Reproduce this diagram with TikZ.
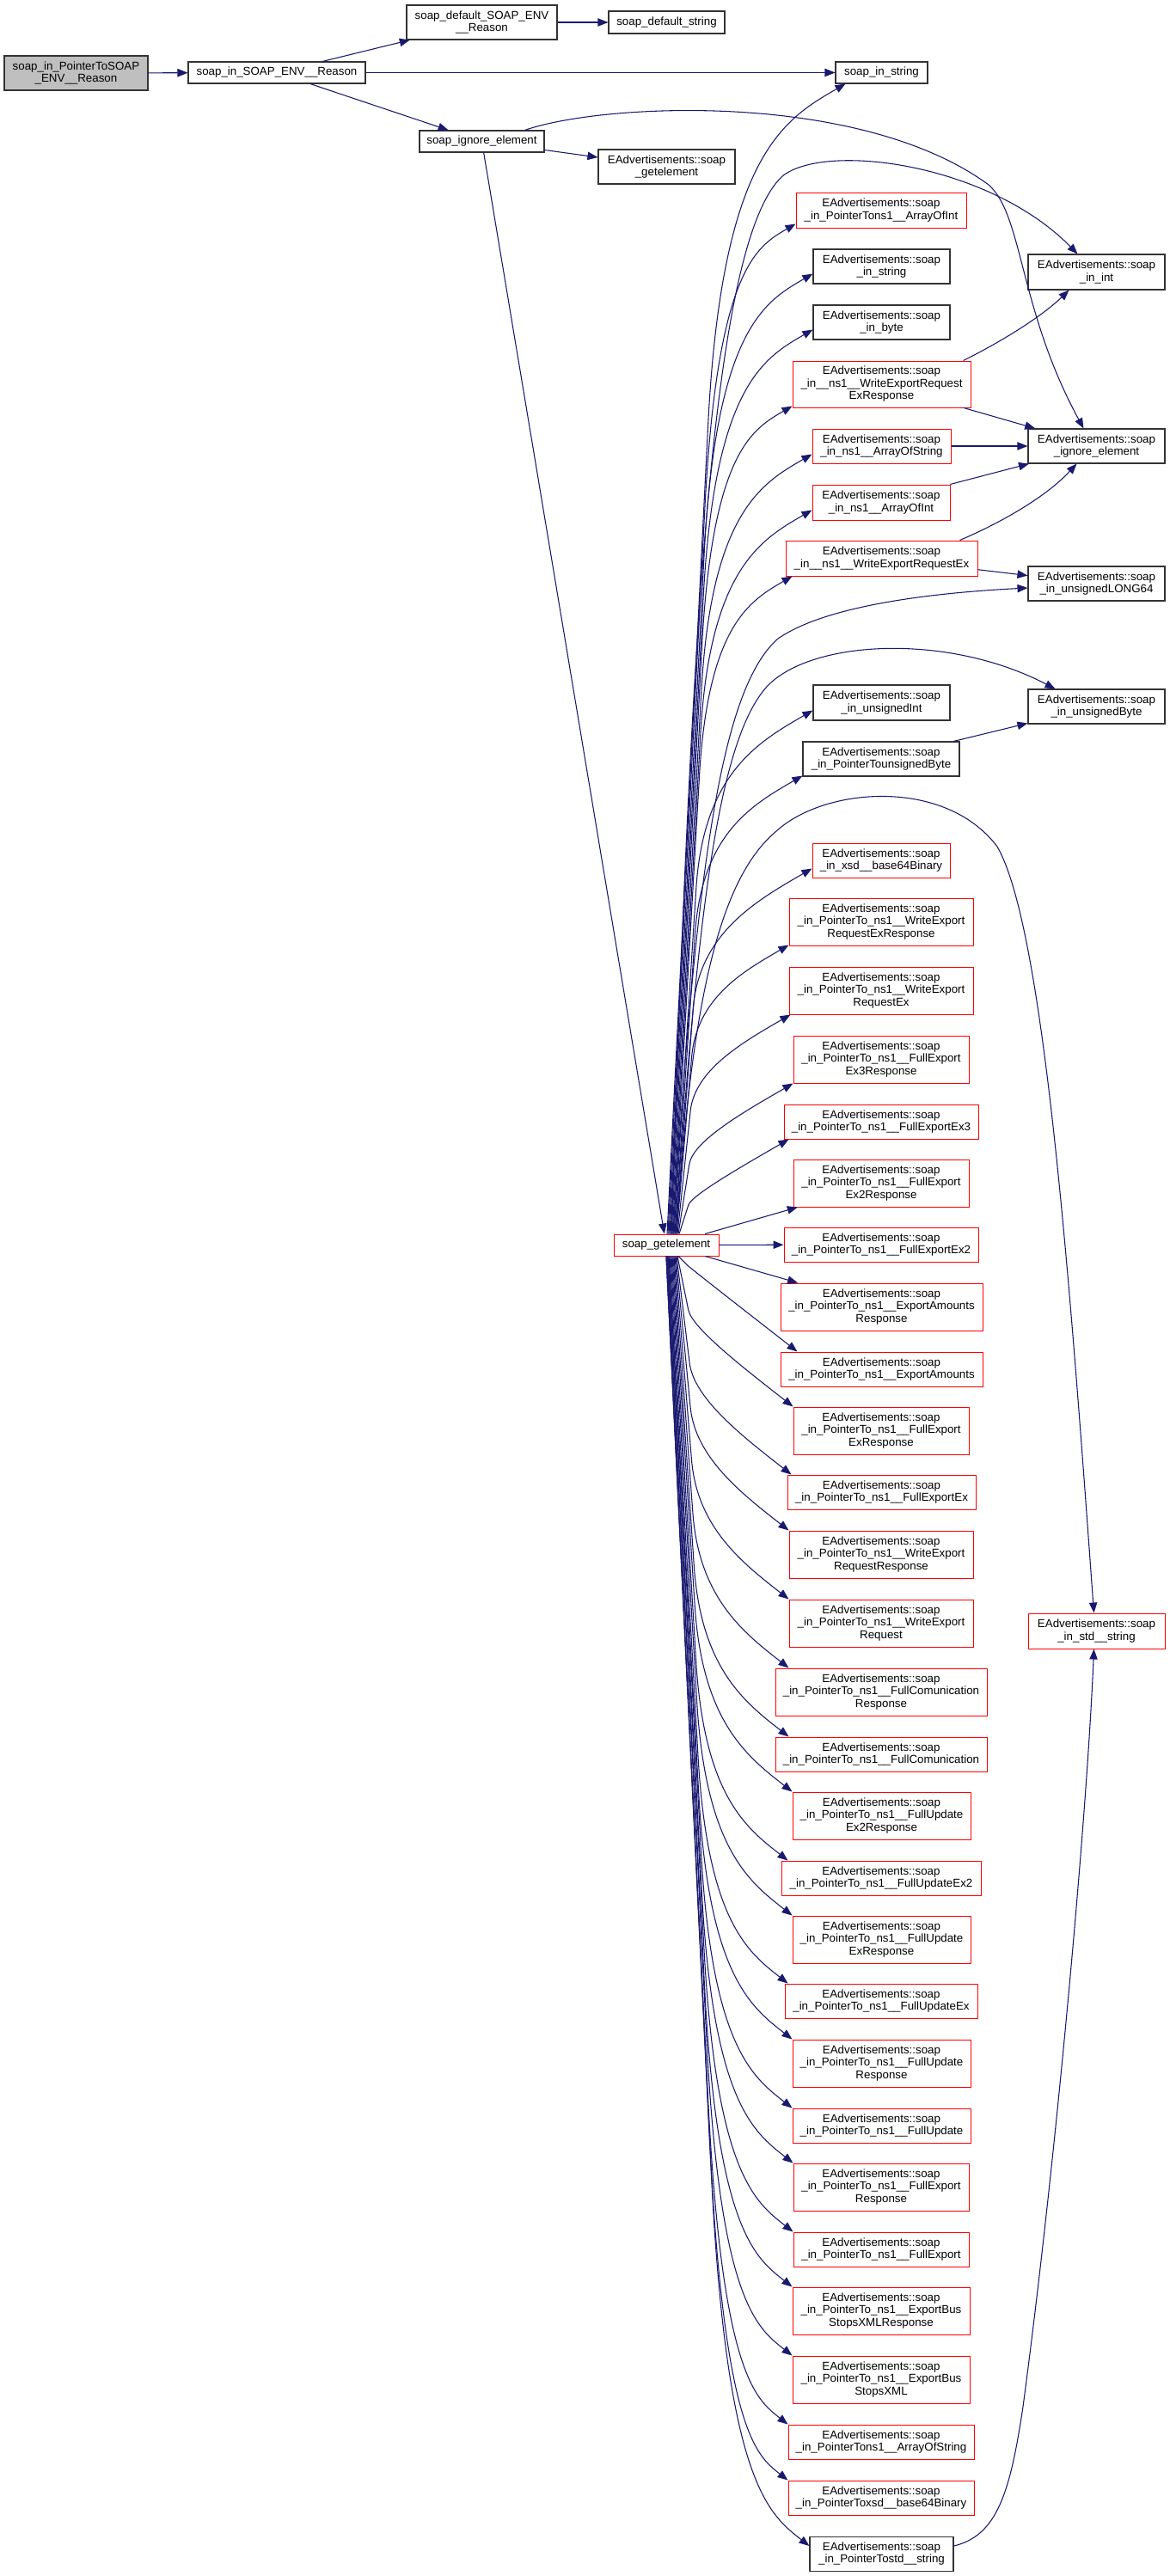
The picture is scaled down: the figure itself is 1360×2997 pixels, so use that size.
\documentclass[tikz,border=0pt]{standalone}
\usepackage{fontspec}
\setmainfont{Liberation Sans}
\usetikzlibrary{arrows.meta,calc}
\definecolor{navy}{HTML}{191970}
\definecolor{grayfill}{HTML}{BFBFBF}
\newcommand\EA{EAdvertisements::soap}
\newcommand\bx[7]{\node[#6, minimum width={(#4-#2)*0.75pt}, minimum height={(#5-#3)*0.75pt}] (#1) at ({(#2+#4)/2},{(#3+#5)/2}) {#7};}
\newcommand\fanedge[3]{%
  \draw[lnk] let \p1=(#1), \p2=(#2),
    \n1={abs(\y2-\y1)},
    \n2={\x1+0.04*\n1+7.5pt},
    \n3={\y2-(#3)*(\x2-\n2)} in
    (\p1) -- ({\x1+0.75*(\n2-\x1)},{\y1+0.75*(\n3-\y1)})
    .. controls ({\n2+0pt},{\n3+0pt}) and ({\x2+0.5*(\n2-\x2)},{\y2+0.5*(\n3-\y2)}) .. (\p2);}
\begin{document}
\begin{tikzpicture}[x=0.75pt,y=-0.75pt,
  box/.style={draw=black!80, line width=0.8pt, inner sep=0pt, align=center, font=\fontsize{10}{10.9}\selectfont, fill=white},
  rbox/.style={box, draw=red, line width=0.75pt},
  lnk/.style={draw=navy, line width=0.8pt, -{Triangle[length=9pt,width=7pt]}}]
\fill[white] (0,0) rectangle (1360,2997);
\useasboundingbox (0,0) rectangle (1360,2997);
% nodes
\bx{A}{5}{65}{172}{105}{box,fill=grayfill}{soap\_in\_PointerToSOAP\\\_ENV\_\_Reason}
\bx{B}{219}{72}{425}{97}{box}{soap\_in\_SOAP\_ENV\_\_Reason}
\bx{C}{473}{6}{648}{46}{box}{soap\_default\_SOAP\_ENV\\\_\_Reason}
\bx{D}{708}{13}{843}{39}{box}{soap\_default\_string}
\bx{E}{972}{72}{1079}{97}{box}{soap\_in\_string}
\bx{F}{488}{152}{633}{177}{box}{soap\_ignore\_element}
\bx{G}{696}{174}{855}{214}{box}{\EA\\\_getelement}
\bx{H}{714}{1436}{836}{1461}{rbox}{soap\_getelement}
\bx{n9}{926}{224}{1124}{265}{rbox}{\EA\\\_in\_PointerTons1\_\_ArrayOfInt}
\bx{n10}{946}{290}{1105}{330}{box}{\EA\\\_in\_string}
\bx{n11}{946}{355}{1105}{395}{box}{\EA\\\_in\_byte}
\bx{n12}{922}{420}{1129}{474}{rbox}{\EA\\\_in\_\_ns1\_\_WriteExportRequest\\ExResponse}
\bx{n13}{945}{499}{1106}{539}{rbox}{\EA\\\_in\_ns1\_\_ArrayOfString}
\bx{n14}{945}{564}{1105}{605}{rbox}{\EA\\\_in\_ns1\_\_ArrayOfInt}
\bx{n15}{914}{629}{1137}{670}{rbox}{\EA\\\_in\_\_ns1\_\_WriteExportRequestEx}
\bx{n16}{946}{797}{1105}{838}{box}{\EA\\\_in\_unsignedInt}
\bx{n17}{934}{863}{1116}{903}{box}{\EA\\\_in\_PointerTounsignedByte}
\bx{n18}{945}{981}{1105}{1021}{rbox}{\EA\\\_in\_xsd\_\_base64Binary}
\bx{n19}{918}{1045}{1132}{1100}{rbox}{\EA\\\_in\_PointerTo\_ns1\_\_WriteExport\\RequestExResponse}
\bx{n20}{918}{1125}{1132}{1180}{rbox}{\EA\\\_in\_PointerTo\_ns1\_\_WriteExport\\RequestEx}
\bx{n21}{923}{1205}{1127}{1260}{rbox}{\EA\\\_in\_PointerTo\_ns1\_\_FullExport\\Ex3Response}
\bx{n22}{912}{1285}{1138}{1325}{rbox}{\EA\\\_in\_PointerTo\_ns1\_\_FullExportEx3}
\bx{n23}{923}{1349}{1127}{1404}{rbox}{\EA\\\_in\_PointerTo\_ns1\_\_FullExport\\Ex2Response}
\bx{n24}{912}{1428}{1138}{1468}{rbox}{\EA\\\_in\_PointerTo\_ns1\_\_FullExportEx2}
\bx{n25}{908}{1493}{1143}{1548}{rbox}{\EA\\\_in\_PointerTo\_ns1\_\_ExportAmounts\\Response}
\bx{n26}{908}{1573}{1143}{1613}{rbox}{\EA\\\_in\_PointerTo\_ns1\_\_ExportAmounts}
\bx{n27}{923}{1637}{1127}{1692}{rbox}{\EA\\\_in\_PointerTo\_ns1\_\_FullExport\\ExResponse}
\bx{n28}{916}{1716}{1135}{1756}{rbox}{\EA\\\_in\_PointerTo\_ns1\_\_FullExportEx}
\bx{n29}{918}{1781}{1132}{1836}{rbox}{\EA\\\_in\_PointerTo\_ns1\_\_WriteExport\\RequestResponse}
\bx{n30}{918}{1861}{1132}{1916}{rbox}{\EA\\\_in\_PointerTo\_ns1\_\_WriteExport\\Request}
\bx{n31}{902}{1941}{1148}{1996}{rbox}{\EA\\\_in\_PointerTo\_ns1\_\_FullComunication\\Response}
\bx{n32}{902}{2021}{1148}{2061}{rbox}{\EA\\\_in\_PointerTo\_ns1\_\_FullComunication}
\bx{n33}{922}{2085}{1129}{2140}{rbox}{\EA\\\_in\_PointerTo\_ns1\_\_FullUpdate\\Ex2Response}
\bx{n34}{909}{2165}{1141}{2205}{rbox}{\EA\\\_in\_PointerTo\_ns1\_\_FullUpdateEx2}
\bx{n35}{922}{2229}{1129}{2284}{rbox}{\EA\\\_in\_PointerTo\_ns1\_\_FullUpdate\\ExResponse}
\bx{n36}{913}{2308}{1137}{2348}{rbox}{\EA\\\_in\_PointerTo\_ns1\_\_FullUpdateEx}
\bx{n37}{922}{2373}{1129}{2428}{rbox}{\EA\\\_in\_PointerTo\_ns1\_\_FullUpdate\\Response}
\bx{n38}{922}{2453}{1129}{2493}{rbox}{\EA\\\_in\_PointerTo\_ns1\_\_FullUpdate}
\bx{n39}{923}{2517}{1127}{2572}{rbox}{\EA\\\_in\_PointerTo\_ns1\_\_FullExport\\Response}
\bx{n40}{923}{2597}{1127}{2637}{rbox}{\EA\\\_in\_PointerTo\_ns1\_\_FullExport}
\bx{n41}{922}{2661}{1128}{2716}{rbox}{\EA\\\_in\_PointerTo\_ns1\_\_ExportBus\\StopsXMLResponse}
\bx{n42}{922}{2741}{1128}{2796}{rbox}{\EA\\\_in\_PointerTo\_ns1\_\_ExportBus\\StopsXML}
\bx{n43}{917}{2821}{1133}{2861}{rbox}{\EA\\\_in\_PointerTons1\_\_ArrayOfString}
\bx{n44}{917}{2886}{1133}{2926}{rbox}{\EA\\\_in\_PointerToxsd\_\_base64Binary}
\bx{n45}{942}{2951}{1109}{2991}{box}{\EA\\\_in\_PointerTostd\_\_string}
\bx{n46}{1196}{296}{1355}{337}{box}{\EA\\\_in\_int}
\bx{n47}{1196}{499}{1355}{539}{box}{\EA\\\_ignore\_element}
\bx{n48}{1196}{659}{1355}{699}{box}{\EA\\\_in\_unsignedLONG64}
\bx{n49}{1196}{802}{1355}{842}{box}{\EA\\\_in\_unsignedByte}
\bx{n50}{1196}{1877}{1355}{1918}{rbox}{\EA\\\_in\_std\_\_string}
% straight edges
\draw[lnk] (A) -- (B);
\draw[lnk] (B) -- (C);
\draw[lnk] (B) -- (E);
\draw[lnk] (B) -- (F);
\draw[lnk] (C) -- (D);
\draw[lnk] (F) -- (G);
\draw[lnk] (F) -- (H);
\draw[lnk] (n12) -- (n47);
\draw[lnk] (n13) -- (n47);
\draw[lnk] (n14) -- (n47);
\draw[lnk] (n15) -- (n48);
\draw[lnk] (n17) -- (n49);
\draw[lnk] (H) -- (n23);
\draw[lnk] (H) -- (n24);
\draw[lnk] (H) -- (n25);
% curved edges
\draw[lnk] ($(F.north)+(50,0)$) .. controls (700,120) and (1000,105) .. (1150,215) .. controls (1190,250) and (1185,360) .. ($(n47.north)+(-15,0)$);
\draw[lnk] ($(H.north)+(6,0)$) .. controls (805,700) and (830,280) .. (910,205) .. controls (960,165) and (1150,190) .. ($(n46.north)+(-22,0)$);
\draw[lnk] ($(H.north)+(8,0)$) .. controls (810,1000) and (840,800) .. (905,743) .. controls (960,705) and (1080,690) .. ($(n48.west)+(0,5)$);
\draw[lnk] ($(H.north)+(10,0)$) .. controls (810,1100) and (830,870) .. (891,800) .. controls (940,745) and (1100,735) .. ($(n49.north)+(-48,0)$);
\draw[lnk] ($(H.north)+(12,0)$) .. controls (805,1150) and (840,1020) .. (903,967) .. controls (960,915) and (1100,905) .. (1160,985) .. controls (1215,1080) and (1245,1500) .. ($(n50.north)+(-3,0)$);
\draw[lnk] ($(n45.east)+(0,-9)$) .. controls (1160,2950) and (1175,2900) .. (1190,2800) .. controls (1230,2500) and (1265,2100) .. ($(n50.south)+(-3,0)$);
\draw[lnk] ($(n12.north east)+(-9,0)$) .. controls (1160,400) and (1210,370) .. ($(n46.south)+(-32,0)$);
\draw[lnk] ($(n15.north east)+(-21,0)$) .. controls (1160,610) and (1215,580) .. ($(n47.south)+(-23,0)$);
% fan upward
\fanedge{$(H.north)+(1,0)$}{$(E.south)+(-42,0)$}{0.577}
\fanedge{$(H.north)+(2,0)$}{$(n9.south west)+(0,-5)$}{0.577}
\fanedge{$(H.north)+(3,0)$}{$(n10.south west)+(0,-12)$}{0.577}
\fanedge{$(H.north)+(4,0)$}{$(n11.south west)+(0,-12)$}{0.577}
\fanedge{$(H.north)+(5,0)$}{$(n12.south west)+(0,-2)$}{0.577}
\fanedge{$(H.north)+(6,0)$}{$(n13.south west)+(0,-11)$}{0.577}
\fanedge{$(H.north)+(7,0)$}{$(n14.south west)+(0,-12)$}{0.577}
\fanedge{$(H.north)+(8,0)$}{$(n15.south west)+(8,0)$}{0.577}
\fanedge{$(H.north)+(9,0)$}{$(n16.south west)+(0,-12)$}{0.577}
\fanedge{$(H.north)+(10,0)$}{$(n17.south west)+(0,-1)$}{0.577}
\fanedge{$(H.north)+(11,0)$}{$(n18.south west)+(0,-11)$}{0.577}
\fanedge{$(H.north)+(12,0)$}{$(n19.south west)+(0,-1)$}{0.577}
\fanedge{$(H.north)+(13,0)$}{$(n20.south west)+(2,0)$}{0.577}
\fanedge{$(H.north)+(14,0)$}{$(n21.south west)+(0,0)$}{0.577}
\fanedge{$(H.north)+(15,0)$}{$(n22.south west)+(6,0)$}{0.577}
% fan downward
\fanedge{$(H.south)+(14,0)$}{$(n26.north west)+(20,0)$}{-0.78}
\fanedge{$(H.south)+(13,0)$}{$(n27.north west)+(0,0)$}{-0.78}
\fanedge{$(H.south)+(12,0)$}{$(n28.north west)+(5,0)$}{-0.78}
\fanedge{$(H.south)+(11,0)$}{$(n29.north west)+(0,0)$}{-0.78}
\fanedge{$(H.south)+(10,0)$}{$(n30.north west)+(0,0)$}{-0.78}
\fanedge{$(H.south)+(9,0)$}{$(n31.north west)+(16,0)$}{-0.78}
\fanedge{$(H.south)+(8,0)$}{$(n32.north west)+(16,0)$}{-0.78}
\fanedge{$(H.south)+(7,0)$}{$(n33.north west)+(0,0)$}{-0.78}
\fanedge{$(H.south)+(6,0)$}{$(n34.north west)+(8,0)$}{-0.78}
\fanedge{$(H.south)+(5,0)$}{$(n35.north west)+(0,0)$}{-0.78}
\fanedge{$(H.south)+(4,0)$}{$(n36.north west)+(4,0)$}{-0.78}
\fanedge{$(H.south)+(3,0)$}{$(n37.north west)+(0,0)$}{-0.78}
\fanedge{$(H.south)+(3,0)$}{$(n38.north west)+(0,0)$}{-0.78}
\fanedge{$(H.south)+(2,0)$}{$(n39.north west)+(0,0)$}{-0.78}
\fanedge{$(H.south)+(2,0)$}{$(n40.north west)+(0,0)$}{-0.78}
\fanedge{$(H.south)+(1,0)$}{$(n41.north west)+(0,0)$}{-0.78}
\fanedge{$(H.south)+(1,0)$}{$(n42.north west)+(0,0)$}{-0.78}
\fanedge{$(H.south)+(0,0)$}{$(n43.north west)+(0,0)$}{-0.78}
\fanedge{$(H.south)+(0,0)$}{$(n44.north west)+(0,0)$}{-0.78}
\fanedge{$(H.south)+(0,0)$}{$(n45.west)+(0,-9)$}{-0.78}
\end{tikzpicture}
\end{document}
